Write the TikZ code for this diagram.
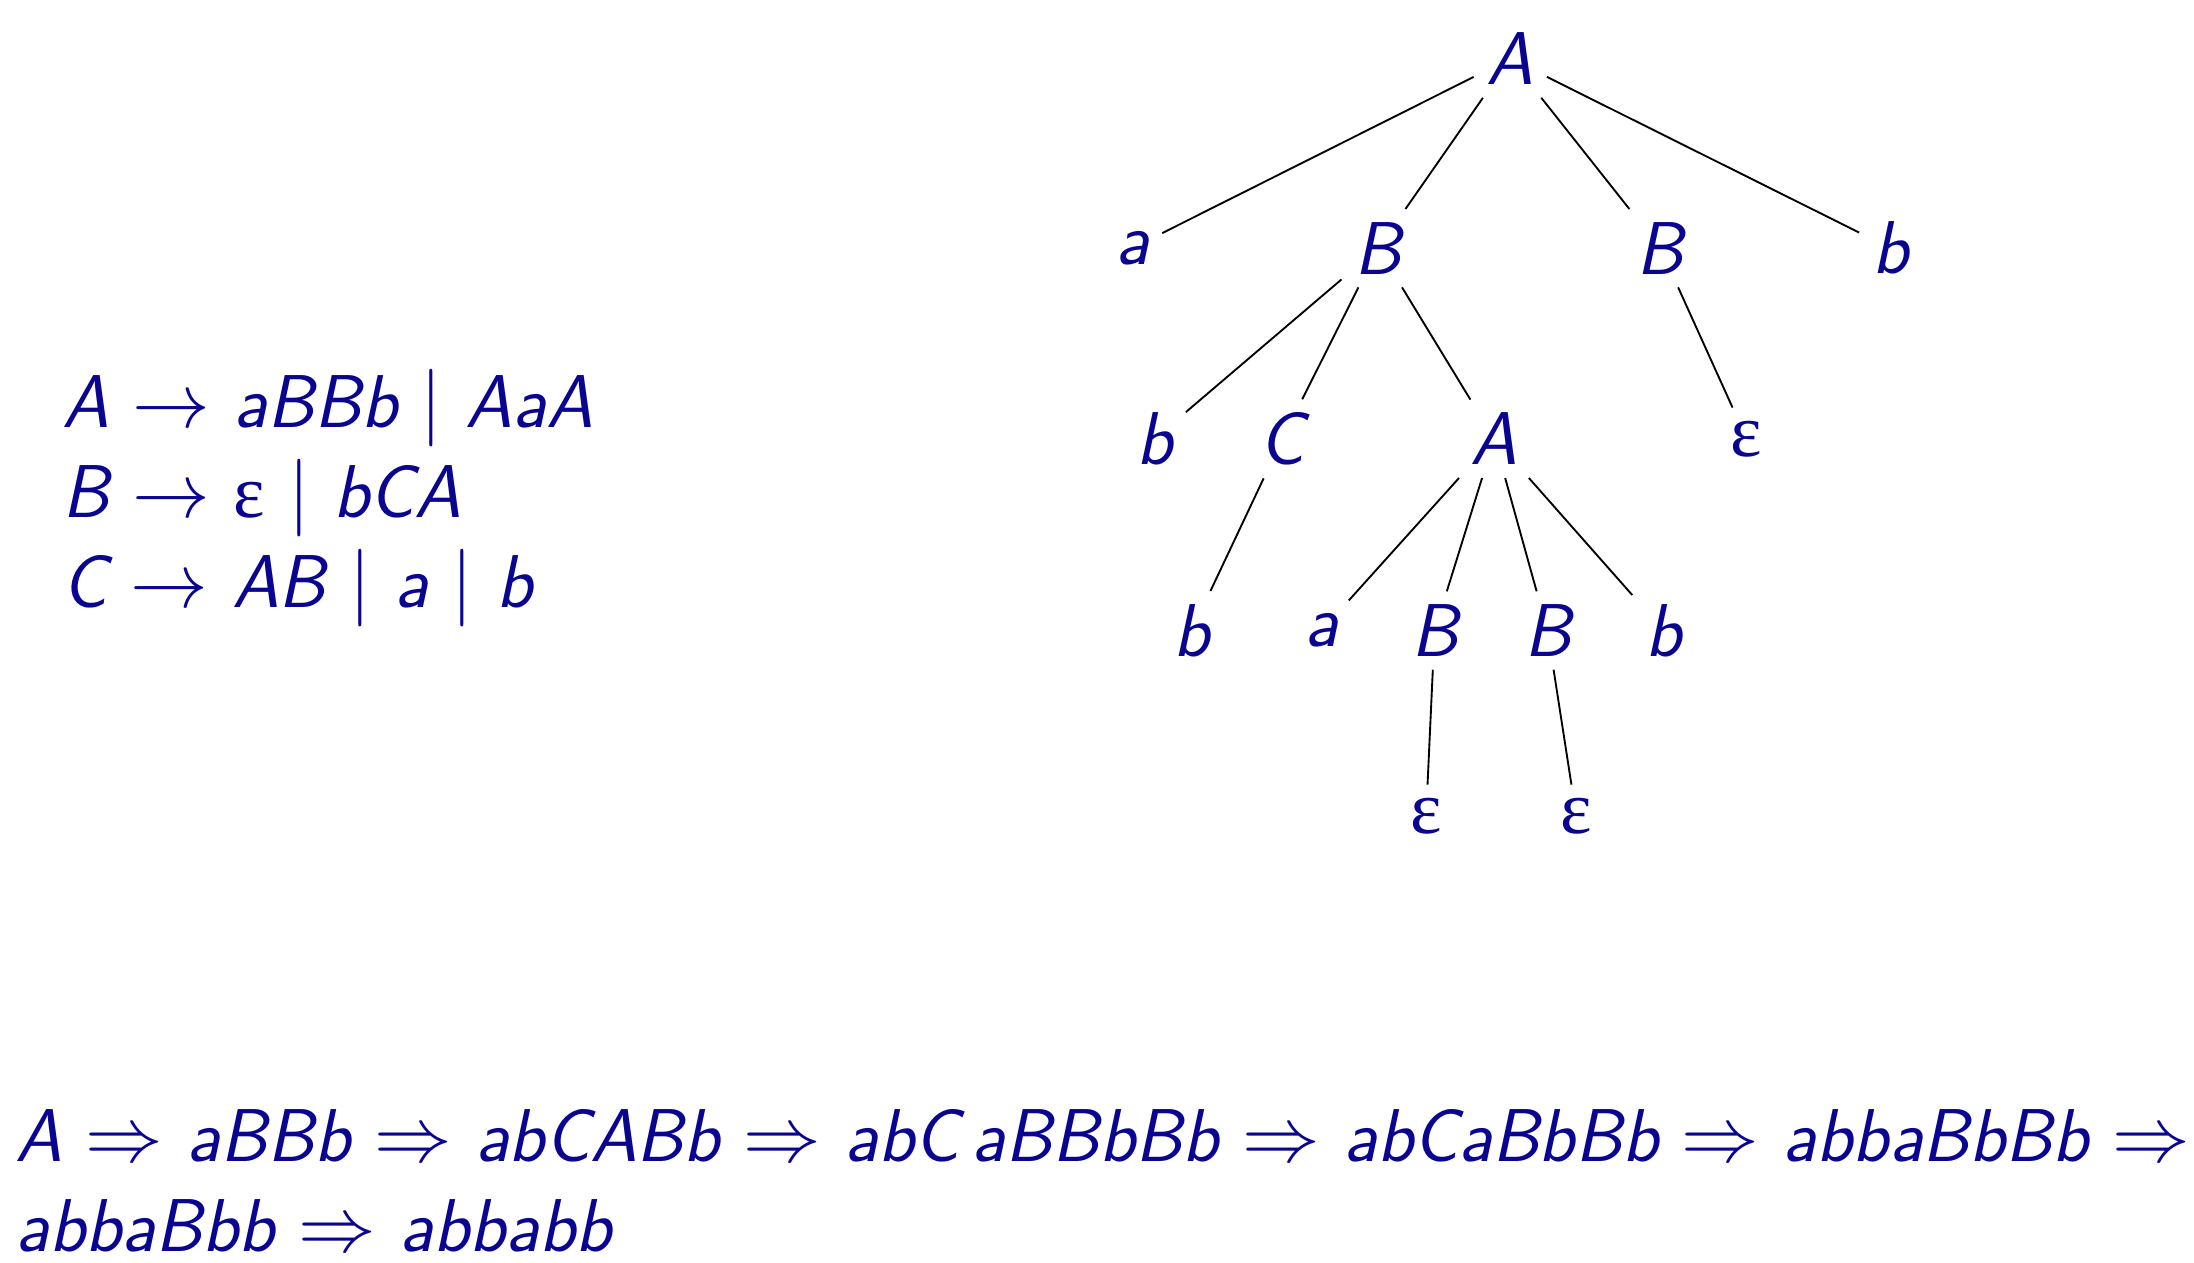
\documentclass[tikz,border=0pt]{standalone}
\usepackage{amsmath}
\usepackage{fontspec}
\newfontfamily\epsfont{Liberation Serif}
\newcommand{\eps}{{\epsfont\upshape ε}}
\definecolor{gblue}{RGB}{10,5,145}
\begin{document}
\begin{tikzpicture}[
        sym/.style={text=gblue, font=\fontsize{20}{24}\selectfont\sffamily\itshape},
        rule/.style={sym, align=left, anchor=base west, inner sep=0pt},
        branch/.style={black, line width=0.5pt}
      ]
      \useasboundingbox (0,0) rectangle (20.6,-11.85);

      % grammar
      \node[rule] (grammar) at (0.58,-5.70)
        {A $\rightarrow$ aBBb $\mid$ AaA\\
         B $\rightarrow$ \eps\ $\mid$ bCA\\
         C $\rightarrow$ AB $\mid$ a $\mid$ b};

      % parse tree
      \node[sym] (root) at (14.18,-0.55) {A};

      \node[sym] (a1) at (10.63,-2.33) {a};
      \node[sym] (B1) at (12.94,-2.33) {B};
      \node[sym] (B2) at (15.59,-2.33) {B};
      \node[sym] (b1) at (17.75,-2.33) {b};

      \node[sym] (b2) at (10.84,-4.12) {b};
      \node[sym] (C1) at (12.04,-4.12) {C};
      \node[sym] (A2) at (14.03,-4.12) {A};
      \node[sym] (e1) at (16.40,-4.12) {\eps};

      \node[sym] (b3) at (11.19,-5.92) {b};
      \node[sym] (a3) at (12.41,-5.92) {a};
      \node[sym] (B3) at (13.47,-5.92) {B};
      \node[sym] (B4) at (14.53,-5.92) {B};
      \node[sym] (b4) at (15.62,-5.92) {b};

      \node[sym] (e2) at (13.39,-7.66) {\eps};
      \node[sym] (e3) at (14.80,-7.66) {\eps};

      \draw[branch] (root) -- (a1);
      \draw[branch] (root) -- (B1);
      \draw[branch] (root) -- (B2);
      \draw[branch] (root) -- (b1);
      \draw[branch] (B1) -- (b2);
      \draw[branch] (B1) -- (C1);
      \draw[branch] (B1) -- (A2);
      \draw[branch] (B2) -- (e1);
      \draw[branch] (C1) -- (b3);
      \draw[branch] (A2) -- (a3);
      \draw[branch] (A2) -- (B3);
      \draw[branch] (A2) -- (B4);
      \draw[branch] (A2) -- (b4);
      \draw[branch] (B3) -- (e2);
      \draw[branch] (B4) -- (e3);

      % derivation
      \node[rule] (derivation) at (0.14,-11.75)
        {A $\Rightarrow$ aBBb $\Rightarrow$ abCABb $\Rightarrow$ abC\,aBBbBb $\Rightarrow$ abCaBbBb $\Rightarrow$ abbaBbBb $\Rightarrow$\\
         abbaBbb $\Rightarrow$ abbabb};
    \end{tikzpicture}
\end{document}
